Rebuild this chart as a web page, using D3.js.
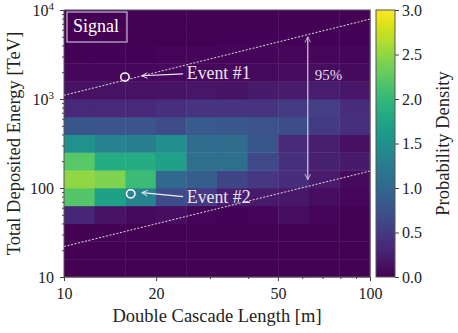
<!DOCTYPE html>
<html>
<head>
<meta charset="utf-8">
<script src="https://cdn.jsdelivr.net/npm/d3@7"></script>
<style>
  body { margin: 0; background: #fff; }
  text { font-family: "Liberation Serif", "DejaVu Serif", serif; }
</style>
</head>
<body>
<div id="chart"></div>
<script>
// bin edges (log spaced)
const lengthEdges = [10, 12.59, 15.85, 19.95, 25.12, 31.62, 39.81, 50.12, 63.10, 79.43, 100];
const energyEdges = [10, 15.85, 25.12, 39.81, 63.10, 100, 158.5, 251.2, 398.1, 631.0,
                     1000, 1585, 2512, 3981, 6310, 10000];

// probability density, one row per energy bin (bottom -> top), one value per length bin
const density = [
  [0.00, 0.00, 0.00, 0.00, 0.00, 0.00, 0.00, 0.00, 0.00, 0.00],
  [0.00, 0.00, 0.00, 0.00, 0.00, 0.00, 0.00, 0.00, 0.00, 0.00],
  [0.01, 0.00, 0.00, 0.00, 0.00, 0.00, 0.00, 0.00, 0.00, 0.00],
  [0.32, 0.14, 0.08, 0.10, 0.03, 0.02, 0.03, 0.10, 0.04, 0.01],
  [2.20, 1.70, 1.35, 0.68, 0.50, 0.25, 0.20, 0.18, 0.10, 0.05],
  [2.50, 2.42, 2.05, 1.00, 0.88, 0.62, 0.48, 0.38, 0.22, 0.08],
  [2.22, 1.85, 1.85, 1.70, 1.08, 1.10, 0.65, 0.42, 0.26, 0.20],
  [1.50, 1.32, 1.28, 1.48, 1.05, 1.05, 0.80, 0.35, 0.25, 0.12],
  [0.80, 0.78, 0.78, 0.68, 0.85, 0.82, 0.75, 0.70, 0.50, 0.42],
  [0.33, 0.33, 0.34, 0.40, 0.45, 0.45, 0.45, 0.50, 0.55, 0.38],
  [0.13, 0.14, 0.14, 0.15, 0.17, 0.15, 0.20, 0.22, 0.24, 0.18],
  [0.05, 0.05, 0.06, 0.06, 0.07, 0.07, 0.08, 0.09, 0.10, 0.08],
  [0.02, 0.02, 0.02, 0.03, 0.03, 0.03, 0.04, 0.05, 0.05, 0.04],
  [0.01, 0.01, 0.01, 0.01, 0.01, 0.02, 0.02, 0.02, 0.02, 0.02],
  [0.00, 0.00, 0.00, 0.00, 0.00, 0.01, 0.01, 0.01, 0.01, 0.01]
];

// 95% band edges (straight in log-log)
const upperBand = [[10, 1100], [100, 7900]];
const lowerBand = [[10, 22], [100, 155]];
const bandArrow = {L: 62.6, top: 5000, bottom: 124};

const events = [
  {label: 'Event #1', L: 15.82, E: 1762, headL: 17.96, headE: 1824, tailL: 24.5, tailE: 1918, textL: 25.2, textE: 1970},
  {label: 'Event #2', L: 16.52, E: 85.9, headL: 17.96, headE: 88.7, tailL: 24.5, tailE: 80.0, textL: 25.2, textE: 79.5}
];

const xTicks = [10, 20, 50, 100];
const xMinor = [30, 40, 60, 70, 80, 90];
const yTicks = [10, 100, 1000, 10000];
const yTickBase = ['10', '100', '10', '10'];
const yTickSup = ['', '', '3', '4'];
const yMinor = [20, 30, 40, 50, 60, 70, 80, 90, 200, 300, 400, 500, 600, 700, 800, 900,
                2000, 3000, 4000, 5000, 6000, 7000, 8000, 9000];
const cTicks = [0, 0.5, 1.0, 1.5, 2.0, 2.5, 3.0];

const W = 458, H = 333;
const mLeft = 64, mRight = 370, mTop = 10, mBottom = 277;
const cbLeft = 376, cbRight = 395;

const svg = d3.select('#chart').append('svg')
  .attr('width', W).attr('height', H);

const x = d3.scaleLog().domain([10, 100]).range([mLeft, mRight]);
const y = d3.scaleLog().domain([10, 10000]).range([mBottom, mTop]);
const color = d3.scaleSequential(d3.interpolateViridis).domain([0, 3]);

// heatmap
const cells = [];
density.forEach((row, i) => row.forEach((v, j) => cells.push({i, j, v})));

svg.append('g')
  .selectAll('rect')
  .data(cells)
  .join('rect')
  .attr('x', d => x(lengthEdges[d.j]))
  .attr('y', d => y(energyEdges[d.i + 1]))
  .attr('width', d => x(lengthEdges[d.j + 1]) - x(lengthEdges[d.j]) + 0.4)
  .attr('height', d => y(energyEdges[d.i]) - y(energyEdges[d.i + 1]) + 0.4)
  .attr('fill', d => color(d.v));

// band lines
const line = d3.line().x(d => x(d[0])).y(d => y(d[1]));
[upperBand, lowerBand].forEach(b => {
  svg.append('path')
    .attr('d', line(b))
    .attr('fill', 'none')
    .attr('stroke', '#fff')
    .attr('stroke-opacity', 0.85)
    .attr('stroke-width', 1)
    .attr('stroke-dasharray', '2,1.6');
});

// arrow markers
const defs = svg.append('defs');
defs.append('marker')
  .attr('id', 'head')
  .attr('viewBox', '0 0 10 10')
  .attr('refX', 9).attr('refY', 5)
  .attr('markerWidth', 7).attr('markerHeight', 7)
  .attr('markerUnits', 'userSpaceOnUse')
  .attr('orient', 'auto-start-reverse')
  .append('path')
  .attr('d', 'M1,1 L9,5 L1,9')
  .attr('fill', 'none')
  .attr('stroke', 'context-stroke')
  .attr('stroke-width', 1.3);

// 95% arrow
svg.append('line')
  .attr('x1', x(bandArrow.L)).attr('x2', x(bandArrow.L))
  .attr('y1', y(bandArrow.top)).attr('y2', y(bandArrow.bottom))
  .attr('stroke', '#c9bedb')
  .attr('stroke-width', 1.3)
  .attr('marker-start', 'url(#head)')
  .attr('marker-end', 'url(#head)');

svg.append('text')
  .attr('x', x(bandArrow.L) + 7)
  .attr('y', 80)
  .attr('fill', '#e6def0')
  .attr('font-size', 15)
  .text('95%');

// events
events.forEach(ev => {
  svg.append('line')
    .attr('x1', x(ev.tailL)).attr('y1', y(ev.tailE))
    .attr('x2', x(ev.headL)).attr('y2', y(ev.headE))
    .attr('stroke', '#f0ecf6')
    .attr('stroke-width', 1.1)
    .attr('marker-end', 'url(#head)');

  svg.append('circle')
    .attr('cx', x(ev.L)).attr('cy', y(ev.E))
    .attr('r', 4.2)
    .attr('fill', 'none')
    .attr('stroke', '#fff')
    .attr('stroke-width', 1.5);

  svg.append('text')
    .attr('x', x(ev.textL)).attr('y', y(ev.textE))
    .attr('dy', '0.35em')
    .attr('fill', '#ece6f4')
    .attr('font-size', 17.8)
    .text(ev.label);
});

// "Signal" box
svg.append('rect')
  .attr('x', 67).attr('y', 12).attr('width', 60).attr('height', 30)
  .attr('fill', 'none')
  .attr('stroke', '#c7b6d6')
  .attr('stroke-width', 1.2);
svg.append('text')
  .attr('x', 73).attr('y', 32)
  .attr('fill', '#fff')
  .attr('font-size', 18)
  .text('Signal');

// frame
svg.append('rect')
  .attr('x', mLeft).attr('y', mTop)
  .attr('width', mRight - mLeft).attr('height', mBottom - mTop)
  .attr('fill', 'none')
  .attr('stroke', '#555')
  .attr('stroke-width', 1);

// x axis
const gx = svg.append('g')
  .attr('transform', `translate(0,${mBottom})`)
  .call(d3.axisBottom(x).tickValues(xTicks).tickFormat(d3.format('d'))
    .tickSize(4).tickSizeOuter(0).tickPadding(7));
svg.append('g')
  .attr('transform', `translate(0,${mBottom})`)
  .call(d3.axisBottom(x).tickValues(xMinor).tickFormat('').tickSize(2).tickSizeOuter(0));

// y axis
const gy = svg.append('g')
  .attr('transform', `translate(${mLeft},0)`)
  .call(d3.axisLeft(y).tickValues(yTicks).tickFormat('')
    .tickSize(4).tickSizeOuter(0).tickPadding(6));
svg.append('g')
  .attr('transform', `translate(${mLeft},0)`)
  .call(d3.axisLeft(y).tickValues(yMinor).tickFormat('').tickSize(2).tickSizeOuter(0));

gy.selectAll('.tick text').each(function(d, i) {
  const t = d3.select(this);
  t.text(yTickBase[i]);
  if (yTickSup[i]) {
    t.append('tspan')
      .attr('font-size', 11)
      .attr('dy', '-0.55em')
      .text(yTickSup[i]);
  }
});

svg.selectAll('.domain').remove();
svg.selectAll('.tick line').attr('stroke', '#444');
svg.selectAll('.tick text')
  .attr('font-family', '"Liberation Serif", serif')
  .attr('font-size', 16)
  .attr('fill', '#222');
gy.selectAll('.tick text tspan').attr('font-size', 11);

// axis labels
svg.append('text')
  .attr('x', (mLeft + mRight) / 2)
  .attr('y', 322)
  .attr('text-anchor', 'middle')
  .attr('font-size', 18.5)
  .attr('fill', '#222')
  .text('Double Cascade Length [m]');

svg.append('text')
  .attr('transform', `translate(20,${(mTop + mBottom) / 2}) rotate(-90)`)
  .attr('text-anchor', 'middle')
  .attr('font-size', 18.5)
  .attr('fill', '#222')
  .text('Total Deposited Energy [TeV]');

// colorbar
const grad = defs.append('linearGradient')
  .attr('id', 'cbar')
  .attr('x1', 0).attr('y1', 1).attr('x2', 0).attr('y2', 0);
d3.range(0, 1.0001, 0.05).forEach(t => {
  grad.append('stop').attr('offset', t).attr('stop-color', d3.interpolateViridis(t));
});

const cScale = d3.scaleLinear().domain([0, 3]).range([mBottom, mTop]);
svg.append('rect')
  .attr('x', cbLeft).attr('y', mTop)
  .attr('width', cbRight - cbLeft).attr('height', mBottom - mTop)
  .attr('fill', 'url(#cbar)')
  .attr('stroke', '#555')
  .attr('stroke-width', 1);

const gc = svg.append('g')
  .attr('transform', `translate(${cbRight},0)`)
  .call(d3.axisRight(cScale).tickValues(cTicks).tickFormat(d3.format('.1f'))
    .tickSize(4).tickSizeOuter(0).tickPadding(3));
gc.select('.domain').remove();
gc.selectAll('.tick line').attr('stroke', '#444');
gc.selectAll('.tick text')
  .attr('font-family', '"Liberation Serif", serif')
  .attr('font-size', 16)
  .attr('fill', '#222');

svg.append('text')
  .attr('transform', `translate(449,${(mTop + mBottom) / 2}) rotate(-90)`)
  .attr('text-anchor', 'middle')
  .attr('font-size', 18.5)
  .attr('fill', '#222')
  .text('Probability Density');
</script>
</body>
</html>
